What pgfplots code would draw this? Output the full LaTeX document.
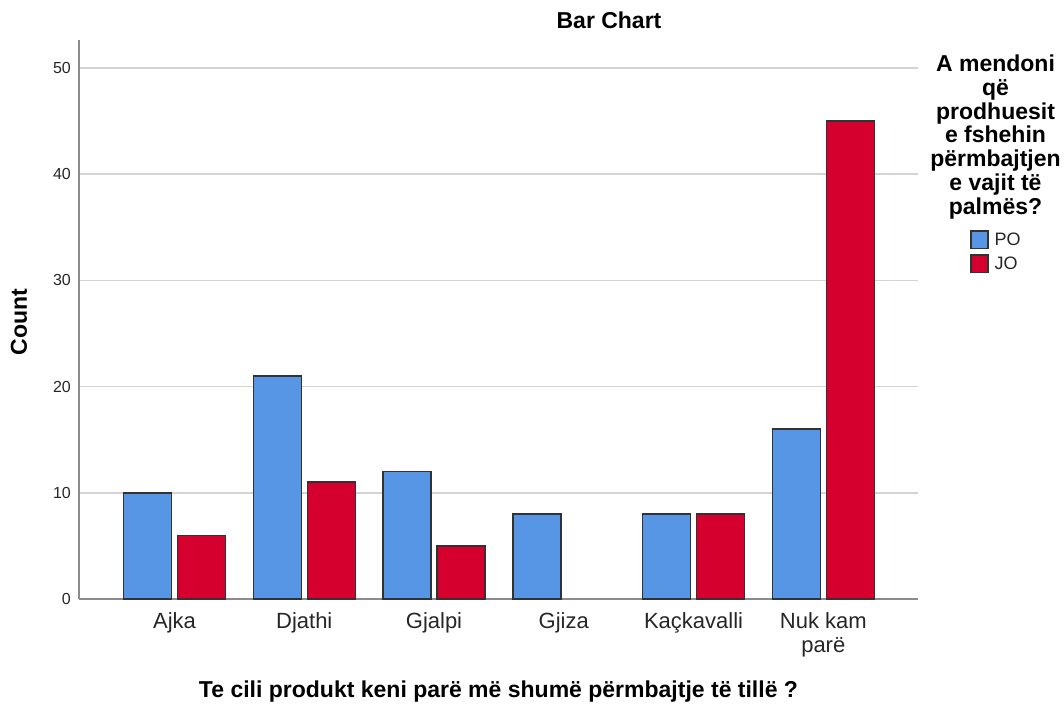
\documentclass[border=0pt]{standalone}
\usepackage{fontspec}
\setmainfont{Liberation Sans}
\usepackage{pgfplots}
\pgfplotsset{compat=1.18}
\definecolor{poblue}{RGB}{86,150,229}
\definecolor{jored}{RGB}{214,0,47}
\definecolor{gridgray}{RGB}{212,212,212}
\definecolor{axgray}{RGB}{140,140,140}
\definecolor{barline}{RGB}{50,50,50}
\pgfplotsset{/pgfplots/ybar legend/.style={/pgfplots/legend image code/.code={\draw[##1,line width=1.5pt] (0.75pt,-8.75pt) rectangle (17.75pt,8.75pt);}}}
\begin{document}
\begin{tikzpicture}
\path[use as bounding box] (-79pt,-106pt) rectangle (985pt,599pt);
\begin{axis}[
  at={(0pt,0pt)}, anchor=south west,
  scale only axis, width=839pt, height=559pt,
  xmin=-0.736, xmax=5.73, ymin=0, ymax=52.64,
  axis lines*=left,
  axis line style={axgray, line width=1.5pt},
  ytick={0,10,20,30,40,50},
  ymajorgrids, grid style={gridgray, line width=1.5pt},
  major tick length=0pt,
  xtick={0,1,2,3,4,5},
  xticklabels={Ajka,Djathi,Gjalpi,Gjiza,Kaçkavalli,{Nuk kam\\parë}},
  x tick label style={align=center, font=\fontsize{22}{24}\selectfont, inner sep=0pt, yshift=-13pt, text=black!85},
  y tick label style={font=\fontsize{16}{18}\selectfont, inner sep=0pt, xshift=-8pt, text=black!85},
  /pgf/number format/assume math mode=true,
  ybar, bar width=48pt,
  legend style={at={(1.062,0.6601)}, anchor=north west, draw=none, fill=none, inner sep=0pt, row sep=5pt,
    font=\fontsize{18}{18}\selectfont, text=black!85,
    /tikz/every odd column/.append style={column sep=4pt}},
  legend cell align=left,
  clip=false,
]
\addplot[fill=poblue, draw=barline, line width=1.5pt, bar shift=-27pt] coordinates {(0,10) (1,21) (2,12) (3,8) (4,8) (5,16)};
\addplot[fill=jored, draw=barline, line width=1.5pt, bar shift=27pt] coordinates {(0,6) (1,11) (2,5) (4,8) (5,45)};
\legend{PO,JO}
\end{axis}
\node[font=\bfseries\fontsize{23}{23}\selectfont] at (530pt,579pt) {Bar Chart};
\node[font=\bfseries\fontsize{23}{23}\selectfont] at (419.5pt,-93pt) {Te cili produkt keni parë më shumë përmbajtje të tillë ?};
\node[font=\bfseries\fontsize{23}{23}\selectfont, rotate=90] at (-60pt,277pt) {Count};
\node[font=\bfseries\fontsize{23}{23.7}\selectfont, align=center, anchor=north, inner sep=0pt] at (916.5pt,544pt) {A mendoni\\që\\prodhuesit\\e fshehin\\përmbajtjen\\e vajit të\\palmës?};
\end{tikzpicture}
\end{document}
